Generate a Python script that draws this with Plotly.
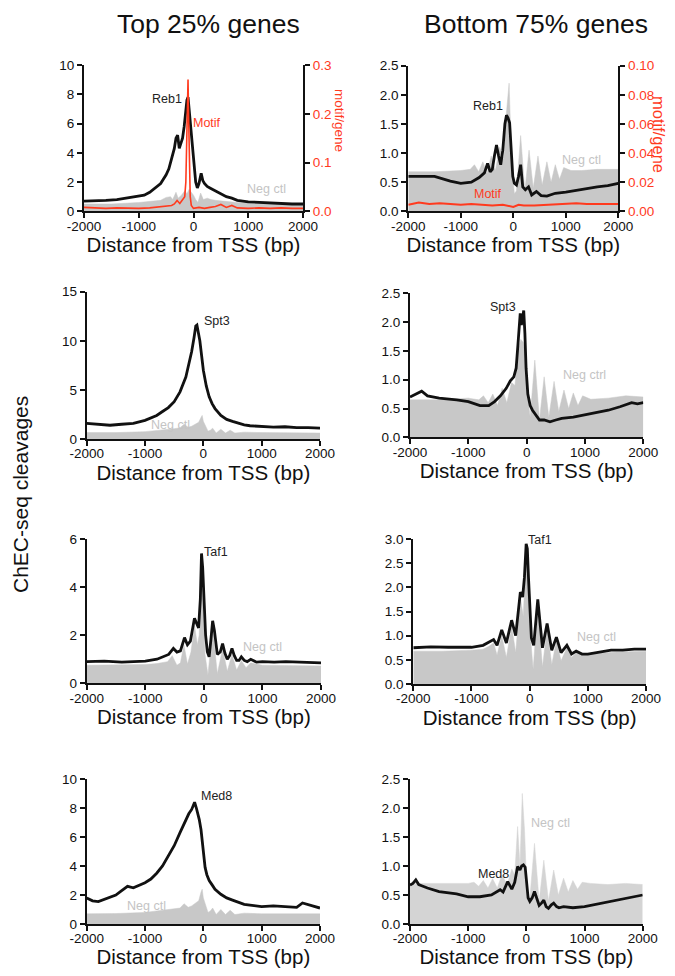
import plotly.graph_objects as go

# ── Data (x = distance from TSS in bp) ───────────────────────────────────────
X_TICKS = [-2000, -1000, 0, 1000, 2000]
X_TICK_LABELS = ["-2000", "-1000", "0", "1000", "2000"]

# Row 1: Reb1
REB1_TOP_X = [-2000, -1800, -1600, -1400, -1200, -1000, -900, -800, -700, -600, -500, -450, -400, -350, -320,
              -290, -260, -230, -200, -170, -140, -120, -100, -80, -60, -40, -20, 0, 20, 40, 70, 100, 140, 170,
              200, 250, 300, 400, 500, 600, 700, 800, 1000, 1200, 1400, 1600, 1800, 2000]
REB1_TOP_Y = [0.7, 0.7, 0.75, 0.8, 0.9, 1.0, 1.1, 1.3, 1.6, 1.9, 2.5, 2.9, 3.6, 4.3, 5.0,
              5.2, 4.3, 4.6, 5.0, 5.8, 6.8, 7.6, 7.8, 7.0, 6.2, 5.4, 4.6, 4.0, 3.0, 2.0, 1.6, 1.9, 2.6, 2.1,
              1.9, 1.7, 1.6, 1.4, 1.2, 1.0, 0.9, 0.75, 0.65, 0.6, 0.55, 0.55, 0.5, 0.5]
NEG_REB1_TOP_X = [-2000, -1500, -1000, -800, -600, -500, -420, -380, -320, -280, -220, -160, -120, -80, -40, 0,
                  40, 80, 130, 180, 250, 320, 400, 500, 600, 800, 1000, 1500, 2000]
NEG_REB1_TOP_Y = [0.5, 0.5, 0.6, 0.65, 0.75, 0.95, 1.0, 0.8, 1.3, 0.9, 1.1, 1.4, 1.2, 1.5, 1.3, 1.1,
                  0.8, 0.6, 1.25, 0.8, 0.9, 0.8, 0.75, 0.7, 0.65, 0.6, 0.55, 0.5, 0.5]
MOTIF_TOP_X = [-2000, -1800, -1600, -1400, -1200, -1000, -800, -600, -500, -400, -350, -300, -250, -200, -160,
               -140, -120, -110, -100, -90, -80, -60, -40, -20, 0, 100, 200, 300, 400, 500, 600, 700, 800,
               1000, 1200, 1400, 1600, 1800, 2000]
MOTIF_TOP_Y = [0.008, 0.007, 0.006, 0.007, 0.006, 0.006, 0.007, 0.009, 0.010, 0.012, 0.015, 0.022, 0.016, 0.025,
               0.03, 0.06, 0.16, 0.24, 0.27, 0.20, 0.10, 0.03, 0.012, 0.008, 0.006, 0.008, 0.006, 0.008, 0.01,
               0.014, 0.008, 0.012, 0.007, 0.006, 0.007, 0.006, 0.007, 0.006, 0.006]

REB1_BOT_X = [-2000, -1800, -1500, -1200, -1000, -800, -650, -550, -490, -440, -400, -360, -320, -280, -240,
              -200, -160, -130, -100, -70, -40, -10, 20, 60, 100, 140, 180, 230, 290, 350, 440, 530, 640, 800,
              1000, 1200, 1400, 1600, 1800, 2000]
REB1_BOT_Y = [0.6, 0.6, 0.6, 0.52, 0.48, 0.5, 0.58, 0.66, 0.82, 0.68, 0.72, 0.95, 1.14, 0.95, 0.8,
              1.05, 1.5, 1.65, 1.6, 1.52, 0.95, 0.6, 0.48, 0.45, 0.6, 0.8, 0.42, 0.37, 0.42, 0.28, 0.34, 0.27,
              0.26, 0.31, 0.33, 0.36, 0.4, 0.42, 0.44, 0.48]
NEG_REB1_BOT_X = [-2000, -1500, -1000, -820, -740, -660, -580, -500, -420, -340, -260, -180, -140, -80, -30, 20,
                  60, 140, 220, 300, 380, 470, 550, 640, 720, 800, 880, 960, 1100, 1300, 1600, 2000]
NEG_REB1_BOT_Y = [0.68, 0.68, 0.7, 0.72, 0.8, 0.68, 0.85, 0.65, 0.95, 0.7, 1.1, 0.9, 1.6, 2.2, 0.8, 0.3,
                  0.35, 1.3, 0.35, 1.05, 0.4, 0.95, 0.45, 0.85, 0.5, 0.8, 0.55, 0.75, 0.7, 0.7, 0.72, 0.72]
MOTIF_BOT_X = [-2000, -1800, -1600, -1400, -1200, -1000, -800, -600, -400, -200, -100, 0, 100, 200, 400, 600,
               800, 1000, 1200, 1400, 1600, 1800, 2000]
MOTIF_BOT_Y = [0.0045, 0.006, 0.005, 0.0055, 0.005, 0.0045, 0.005, 0.0045, 0.004, 0.0045, 0.004, 0.003,
               0.0045, 0.004, 0.004, 0.0045, 0.0045, 0.005, 0.0055, 0.005, 0.005, 0.0045, 0.005]

# Row 2: Spt3
SPT3_TOP_X = [-2000, -1800, -1600, -1400, -1200, -1000, -800, -700, -600, -500, -400, -300, -250, -200, -160,
              -130, -110, -90, -60, -30, 0, 50, 100, 150, 200, 300, 400, 500, 600, 700, 800, 1000, 1200, 1400,
              1600, 1800, 2000]
SPT3_TOP_Y = [1.6, 1.5, 1.4, 1.5, 1.6, 1.9, 2.4, 2.8, 3.2, 3.8, 4.8, 6.3, 7.5, 8.9, 10.3,
              11.5, 11.6, 11.0, 10.0, 8.5, 7.0, 5.4, 4.3, 3.6, 3.1, 2.4, 2.0, 1.8, 1.6, 1.45, 1.35, 1.25, 1.2,
              1.25, 1.15, 1.15, 1.1]
NEG_SPT3_TOP_X = [-2000, -1500, -1000, -800, -600, -500, -400, -330, -260, -200, -140, -80, -40, -20, 0, 40,
                  80, 120, 160, 220, 300, 380, 460, 540, 700, 1000, 1500, 2000]
NEG_SPT3_TOP_Y = [0.65, 0.65, 0.75, 0.85, 0.95, 1.05, 1.15, 1.5, 1.2, 1.3, 1.5, 1.7, 2.2, 2.4, 1.8, 1.3,
                  0.8, 0.9, 1.1, 0.6, 1.0, 0.6, 0.9, 0.6, 0.7, 0.65, 0.6, 0.6]

SPT3_BOT_X = [-2000, -1900, -1800, -1700, -1500, -1200, -1000, -800, -650, -550, -450, -350, -280, -220, -180,
              -150, -130, -110, -90, -70, -50, -30, -10, 20, 60, 100, 160, 220, 300, 400, 500, 600, 800, 1000,
              1200, 1400, 1600, 1800, 1900, 2000]
SPT3_BOT_Y = [0.7, 0.75, 0.8, 0.72, 0.68, 0.65, 0.62, 0.55, 0.55, 0.62, 0.72, 0.85, 0.98, 1.05, 1.2,
              1.6, 2.0, 2.15, 1.95, 2.1, 2.2, 1.8, 1.2, 0.75, 0.55, 0.47, 0.38, 0.3, 0.3, 0.27, 0.3, 0.33, 0.35,
              0.39, 0.42, 0.47, 0.53, 0.6, 0.58, 0.6]
NEG_SPT3_BOT_X = [-2000, -1500, -1000, -820, -740, -660, -580, -500, -420, -340, -260, -200, -150, -100, -60,
                  -20, 20, 60, 140, 220, 300, 380, 470, 550, 640, 720, 800, 880, 960, 1100, 1400, 1700, 2000]
NEG_SPT3_BOT_Y = [0.65, 0.65, 0.68, 0.65, 0.72, 0.6, 0.75, 0.55, 0.85, 0.6, 0.95, 0.9, 1.5, 1.7, 1.65,
                  1.4, 0.7, 0.35, 1.34, 0.3, 1.05, 0.35, 0.97, 0.45, 0.82, 0.5, 0.77, 0.55, 0.72, 0.66, 0.68,
                  0.72, 0.7]

# Row 3: Taf1
TAF1_TOP_X = [-2000, -1700, -1400, -1100, -1000, -800, -700, -600, -520, -460, -400, -330, -280, -230, -160,
              -120, -90, -60, -40, -20, 0, 30, 60, 90, 120, 150, 180, 230, 280, 320, 360, 400, 440, 480, 520,
              560, 600, 640, 690, 740, 800, 900, 1000, 1200, 1400, 1600, 1800, 2000]
TAF1_TOP_Y = [0.9, 0.92, 0.88, 0.9, 0.92, 1.0, 1.1, 1.2, 1.45, 1.3, 1.35, 1.9, 1.6, 1.75, 2.7,
              2.5, 2.3, 3.5, 5.4, 4.8, 3.4, 2.0, 1.3, 1.1, 1.8, 2.6, 2.2, 1.2, 1.3, 1.65, 1.25, 1.0, 1.15,
              1.45, 1.15, 0.95, 0.95, 1.1, 0.95, 0.9, 1.0, 0.88, 0.9, 0.88, 0.9, 0.88, 0.85, 0.85]
NEG_TAF1_TOP_X = [-2000, -1500, -1000, -800, -700, -620, -540, -460, -400, -340, -280, -220, -160, -110, -80,
                  -40, -10, 20, 70, 150, 230, 320, 400, 480, 560, 640, 720, 800, 1000, 1500, 2000]
NEG_TAF1_TOP_Y = [0.75, 0.75, 0.78, 0.82, 0.88, 0.9, 1.15, 0.75, 0.85, 1.6, 0.8, 1.3, 2.4, 1.6, 2.0,
                  4.8, 3.0, 1.2, 0.35, 2.3, 0.4, 1.45, 0.5, 1.2, 0.55, 0.95, 0.65, 0.85, 0.75, 0.75, 0.72]

TAF1_BOT_X = [-2000, -1700, -1400, -1100, -1000, -800, -700, -620, -560, -480, -400, -310, -240, -160, -120,
              -90, -60, -40, -20, 0, 30, 70, 140, 220, 300, 380, 460, 540, 640, 720, 800, 900, 1000, 1200,
              1400, 1600, 1800, 2000]
TAF1_BOT_Y = [0.75, 0.77, 0.76, 0.77, 0.76, 0.8, 0.86, 0.92, 0.8, 1.12, 0.85, 1.32, 1.0, 1.9, 1.8,
              2.2, 2.9, 2.8, 2.2, 1.6, 0.95, 0.8, 1.75, 0.75, 1.25, 0.7, 0.97, 0.65, 0.8, 0.62, 0.68, 0.62,
              0.62, 0.66, 0.7, 0.7, 0.72, 0.72]
NEG_TAF1_BOT_X = [-2000, -1500, -1000, -800, -700, -620, -560, -480, -400, -310, -240, -160, -110, -60, -40,
                  -10, 20, 60, 140, 220, 300, 380, 460, 540, 640, 720, 800, 1000, 1500, 2000]
NEG_TAF1_BOT_Y = [0.68, 0.68, 0.7, 0.72, 0.78, 0.85, 0.6, 1.0, 0.55, 1.2, 0.65, 1.8, 1.4, 2.7, 2.8,
                  2.0, 0.9, 0.3, 1.6, 0.35, 1.15, 0.4, 0.9, 0.48, 0.75, 0.55, 0.65, 0.62, 0.66, 0.68]

# Row 4: Med8
MED8_TOP_X = [-2000, -1900, -1800, -1700, -1500, -1400, -1300, -1200, -1000, -900, -800, -700, -600, -500,
              -400, -300, -250, -200, -170, -150, -120, -100, -70, -40, -20, 0, 30, 60, 100, 150, 200, 300,
              400, 500, 600, 700, 800, 1000, 1200, 1400, 1600, 1700, 1800, 1900, 2000]
MED8_TOP_Y = [1.8, 1.6, 1.55, 1.7, 2.0, 2.3, 2.6, 2.5, 2.85, 3.1, 3.5, 4.0, 4.7, 5.4,
              6.3, 7.2, 7.6, 7.9, 8.2, 8.4, 8.0, 7.7, 7.2, 6.5, 5.8, 4.7, 3.9, 3.4, 3.0, 2.7, 2.4, 2.05,
              1.8, 1.65, 1.5, 1.35, 1.3, 1.2, 1.25, 1.2, 1.15, 1.45, 1.35, 1.25, 1.1]
NEG_MED8_TOP_X = [-2000, -1500, -1000, -800, -600, -500, -400, -330, -260, -200, -140, -80, -40, -20, 0, 40,
                  80, 120, 160, 220, 300, 380, 460, 540, 700, 1000, 1500, 2000]
NEG_MED8_TOP_Y = [0.7, 0.72, 0.8, 0.9, 1.0, 1.05, 1.1, 1.4, 1.15, 1.25, 1.4, 1.6, 2.2, 2.4, 1.8, 1.3,
                  0.8, 0.9, 1.1, 0.65, 1.0, 0.65, 0.95, 0.65, 0.75, 0.7, 0.7, 0.7]

MED8_BOT_X = [-2000, -1950, -1900, -1850, -1800, -1700, -1500, -1200, -1000, -800, -600, -500, -450, -400,
              -320, -250, -200, -150, -110, -80, -50, -20, 0, 30, 60, 100, 140, 180, 220, 260, 300, 340, 380,
              430, 470, 520, 560, 640, 720, 800, 1000, 1200, 1500, 1800, 2000]
MED8_BOT_Y = [0.67, 0.7, 0.76, 0.68, 0.66, 0.62, 0.56, 0.52, 0.47, 0.47, 0.5, 0.56, 0.59, 0.55,
              0.73, 0.6, 0.72, 0.99, 0.93, 1.0, 1.02, 0.98, 0.7, 0.45, 0.39, 0.45, 0.56, 0.42, 0.32, 0.36,
              0.41, 0.3, 0.27, 0.33, 0.36, 0.3, 0.28, 0.3, 0.29, 0.28, 0.3, 0.34, 0.41, 0.47, 0.5]
NEG_MED8_BOT_X = [-2000, -1500, -1000, -900, -820, -740, -660, -580, -500, -420, -330, -250, -200, -150, -110,
                  -70, -30, 0, 30, 60, 140, 220, 300, 380, 470, 550, 640, 720, 800, 880, 960, 1100, 1400,
                  1700, 2000]
NEG_MED8_BOT_Y = [0.7, 0.7, 0.7, 0.72, 0.65, 0.75, 0.62, 0.78, 0.62, 0.85, 0.68, 0.95, 0.85, 1.68, 1.0,
                  2.25, 1.6, 0.8, 0.5, 0.45, 1.39, 0.4, 1.1, 0.4, 0.93, 0.5, 0.79, 0.55, 0.75, 0.6, 0.72, 0.7,
                  0.68, 0.7, 0.68]

# ── Panel layout (pixel boxes measured on the 675x976 reference) ─────────────
# the page body has an 8px margin, so the figure is 16px smaller and shifted
PAGE_W, PAGE_H, OFF = 675, 976, 8
W, H = PAGE_W - 2 * OFF, PAGE_H - 2 * OFF
BLACK = "#111111"
GRAY = "#c8c8c8"
GRAY_TXT = "#c4c4c4"
RED = "#ff3a1e"
FONT = "Liberation Sans, Arial, Helvetica, sans-serif"


def px(x):
    return (x - OFF) / W


def py(y):
    return 1 - (y - OFF) / H


def dom_x(l, r):
    return [px(l), px(r)]


def dom_y(bottom, top):
    return [py(bottom), py(top)]


panels = [
    dict(sx=REB1_TOP_X, sy=REB1_TOP_Y, nx=NEG_REB1_TOP_X, ny=NEG_REB1_TOP_Y,
         xd=dom_x(84, 303), yd=dom_y(211.3, 65), yr=[0, 10], dt=2, fmt="d",
         lab="Reb1", lpos=(-490, 7.7), neg="Neg ctl", npos=(1340, 1.55)),
    dict(sx=REB1_BOT_X, sy=REB1_BOT_Y, nx=NEG_REB1_BOT_X, ny=NEG_REB1_BOT_Y,
         xd=dom_x(408.3, 618.3), yd=dom_y(211.3, 65.7), yr=[0, 2.5], dt=0.5, fmt=".1f",
         lab="Reb1", lpos=(-480, 1.8), neg="Neg ctl", npos=(1290, 0.88)),
    dict(sx=SPT3_TOP_X, sy=SPT3_TOP_Y, nx=NEG_SPT3_TOP_X, ny=NEG_SPT3_TOP_Y,
         xd=dom_x(86.7, 320), yd=dom_y(439, 291.7), yr=[0, 15], dt=5, fmt="d",
         lab="Spt3", lpos=(230, 12.0), neg="Neg ctl", npos=(-560, 1.4)),
    dict(sx=SPT3_BOT_X, sy=SPT3_BOT_Y, nx=NEG_SPT3_BOT_X, ny=NEG_SPT3_BOT_Y,
         xd=dom_x(410, 643.3), yd=dom_y(437.3, 293.3), yr=[0, 2.5], dt=0.5, fmt=".1f",
         lab="Spt3", lpos=(-410, 2.27), neg="Neg ctrl", npos=(990, 1.08)),
    dict(sx=TAF1_TOP_X, sy=TAF1_TOP_Y, nx=NEG_TAF1_TOP_X, ny=NEG_TAF1_TOP_Y,
         xd=dom_x(86.7, 321), yd=dom_y(683.3, 539), yr=[0, 6], dt=2, fmt="d",
         lab="Taf1", lpos=(200, 5.47), neg="Neg ctl", npos=(1000, 1.52)),
    dict(sx=TAF1_BOT_X, sy=TAF1_BOT_Y, nx=NEG_TAF1_BOT_X, ny=NEG_TAF1_BOT_Y,
         xd=dom_x(413.3, 646), yd=dom_y(684, 539), yr=[0, 3], dt=0.5, fmt=".1f",
         lab="Taf1", lpos=(180, 2.98), neg="Neg ctl", npos=(1150, 0.98)),
    dict(sx=MED8_TOP_X, sy=MED8_TOP_Y, nx=NEG_MED8_TOP_X, ny=NEG_MED8_TOP_Y,
         xd=dom_x(86.7, 320), yd=dom_y(924, 779), yr=[0, 10], dt=2, fmt="d",
         lab="Med8", lpos=(230, 8.8), neg="Neg ctl", npos=(-970, 1.24)),
    dict(sx=MED8_BOT_X, sy=MED8_BOT_Y, nx=NEG_MED8_BOT_X, ny=NEG_MED8_BOT_Y,
         xd=dom_x(410, 642.7), yd=dom_y(924, 779), yr=[0, 2.5], dt=0.5, fmt=".1f",
         lab="Med8", lpos=(-567, 0.87), neg="Neg ctl", npos=(410, 1.75), fill="#d4d4d4"),
]

axis_common = dict(
    showline=True, linecolor=BLACK, linewidth=2,
    ticks="outside", ticklen=5, tickwidth=2, tickcolor=BLACK,
    showgrid=False, zeroline=False, fixedrange=True, automargin=False,
    tickfont=dict(size=13.5, color=BLACK, family=FONT),
)


def note(x, y, text, size, color, xref="paper", yref="paper", angle=0):
    return dict(x=x, y=y, xref=xref, yref=yref, text=text, textangle=angle, showarrow=False,
                xanchor="center", yanchor="middle", font=dict(size=size, color=color, family=FONT))


fig = go.Figure()
layout = {}
annotations = []

for i, p in enumerate(panels, start=1):
    xa, ya = f"x{i}", f"y{i}"
    fig.add_trace(go.Scatter(
        x=p["nx"], y=p["ny"], xaxis=xa, yaxis=ya, mode="lines",
        fill="tozeroy", fillcolor=p.get("fill", GRAY),
        line=dict(color=p.get("fill", GRAY), width=0.5), showlegend=False,
    ))
    fig.add_trace(go.Scatter(
        x=p["sx"], y=p["sy"], xaxis=xa, yaxis=ya, mode="lines",
        line=dict(color=BLACK, width=2.8), showlegend=False,
    ))
    layout[f"xaxis{i}"] = dict(
        axis_common, domain=p["xd"], anchor=ya, range=[-2000, 2000],
        tickvals=X_TICKS, ticktext=X_TICK_LABELS, ticklabelstandoff=-4,
        title=dict(text="Distance from TSS (bp)", standoff=3,
                   font=dict(size=20.5, color=BLACK, family=FONT)),
    )
    layout[f"yaxis{i}"] = dict(
        axis_common, domain=p["yd"], anchor=xa, range=p["yr"],
        dtick=p["dt"], tick0=0, tickformat=p["fmt"],
    )
    annotations.append(note(p["lpos"][0], p["lpos"][1], p["lab"], 12.5, "#222222", xa, ya))
    annotations.append(note(p["npos"][0], p["npos"][1], p["neg"], 12.5, GRAY_TXT, xa, ya))

# Motif density on secondary axes of the Reb1 row
fig.add_trace(go.Scatter(x=MOTIF_TOP_X, y=MOTIF_TOP_Y, xaxis="x1", yaxis="y9", mode="lines",
                         line=dict(color=RED, width=1.6), showlegend=False))
fig.add_trace(go.Scatter(x=MOTIF_BOT_X, y=MOTIF_BOT_Y, xaxis="x2", yaxis="y10", mode="lines",
                         line=dict(color=RED, width=2), showlegend=False))
layout["yaxis9"] = dict(axis_common, overlaying="y1", side="right", anchor="x1", range=[0, 0.3],
                        dtick=0.1, tick0=0, tickformat=".1f",
                        tickfont=dict(size=13.5, color=RED, family=FONT))
layout["yaxis10"] = dict(axis_common, overlaying="y2", side="right", anchor="x2", range=[0, 0.1],
                         dtick=0.02, tick0=0, tickformat=".2f",
                         tickfont=dict(size=13.5, color=RED, family=FONT))

annotations += [
    note(245, 6.05, "Motif", 12.5, RED, "x1", "y1"),
    note(-490, 0.3, "Motif", 12.5, RED, "x2", "y2"),
    note(px(340), py(120), "motif/gene", 13.5, RED, angle=90),
    note(px(659), py(134), "motif/gene", 16.5, RED, angle=90),
    note(px(208), py(24), "Top 25% genes", 26.5, BLACK),
    note(px(536), py(24), "Bottom 75% genes", 26.5, BLACK),
    note(px(20), py(495), "ChEC-seq cleavages", 21, BLACK, angle=-90),
]

fig.update_layout(
    layout,
    annotations=annotations,
    width=W, height=H,
    margin=dict(l=0, r=0, t=0, b=0, autoexpand=False),
    plot_bgcolor="white", paper_bgcolor="white",
    font=dict(family=FONT, color=BLACK),
    showlegend=False,
)

fig.write_html("out.html", config={"displayModeBar": False})
